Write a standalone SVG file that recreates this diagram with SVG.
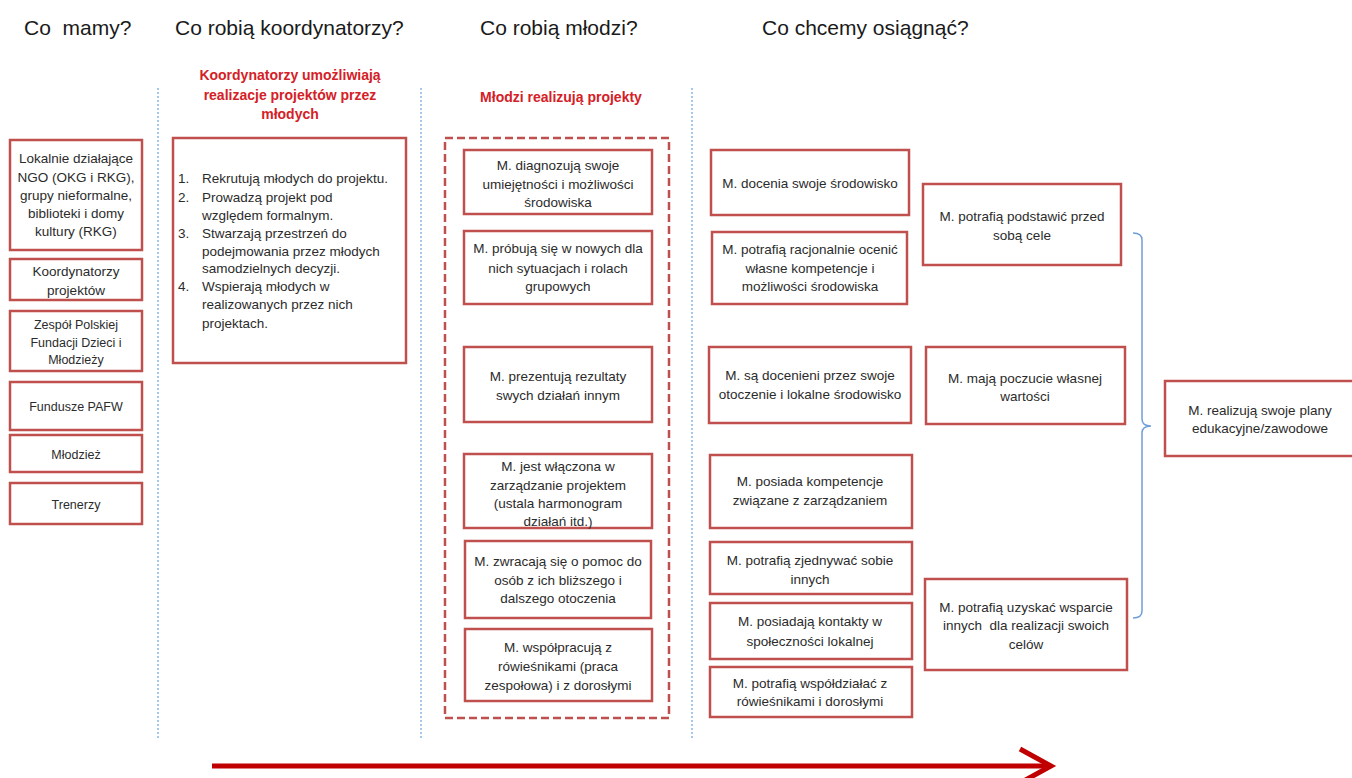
<svg xmlns="http://www.w3.org/2000/svg" width="1352" height="778" viewBox="0 0 1352 778">
<style>
.bg{fill:#ffffff}
.box{fill:#ffffff;stroke:#c0504d;stroke-width:2.5}
.t{font-family:"Liberation Sans",Arial,sans-serif;font-size:13.5px;fill:#2b2b2b;text-anchor:middle}
.tl{font-family:"Liberation Sans",Arial,sans-serif;font-size:13.5px;fill:#2b2b2b}
.sm{font-size:12.5px}
.h{font-family:"Liberation Sans",Arial,sans-serif;font-size:21px;fill:#1a1a1a;white-space:pre}
.red{font-family:"Liberation Sans",Arial,sans-serif;font-size:14px;font-weight:bold;fill:#d42026;text-anchor:middle}
.sep{stroke:#4a8fd8;stroke-width:1;stroke-dasharray:2,2;fill:none}
</style>
<rect class="bg" x="0" y="0" width="1352" height="778"/>

<g id="headers">
<text class="h" x="24" y="35">Co  mamy?</text>
<text class="h" x="175" y="35">Co robią koordynatorzy?</text>
<text class="h" x="480" y="35">Co robią młodzi?</text>
<text class="h" x="762" y="35">Co chcemy osiągnąć?</text>
<text class="red" x="290" y="80">Koordynatorzy umożliwiają</text>
<text class="red" x="290" y="100">realizacje projektów przez</text>
<text class="red" x="290" y="119">młodych</text>
<text class="red" x="561" y="102">Młodzi realizują projekty</text>
</g>

<g id="separators">
<line class="sep" x1="158" y1="88" x2="158" y2="738"/>
<line class="sep" x1="421" y1="88" x2="421" y2="740"/>
<line class="sep" x1="692" y1="88" x2="692" y2="740"/>
</g>

<g id="left-1"><rect class="box" x="10" y="140" width="132" height="110"/>
<text class="t" x="76" y="163">Lokalnie działające</text>
<text class="t" x="76" y="182">NGO (OKG i RKG),</text>
<text class="t" x="76" y="200">grupy nieformalne,</text>
<text class="t" x="76" y="218">biblioteki i domy</text>
<text class="t" x="76" y="236">kultury (RKG)</text></g>
<g id="left-2"><rect class="box" x="10" y="259" width="132" height="41"/>
<text class="t" x="76" y="276">Koordynatorzy</text>
<text class="t" x="76" y="295">projektów</text></g>
<g id="left-3"><rect class="box" x="10" y="311" width="132" height="60"/>
<text class="t sm" x="76" y="329">Zespół Polskiej</text>
<text class="t sm" x="76" y="347">Fundacji Dzieci i</text>
<text class="t sm" x="76" y="364">Młodzieży</text></g>
<g id="left-4"><rect class="box" x="10" y="382" width="132" height="48"/>
<text class="t sm" x="76" y="411">Fundusze PAFW</text></g>
<g id="left-5"><rect class="box" x="10" y="435" width="132" height="37"/>
<text class="t sm" x="76" y="459">Młodzież</text></g>
<g id="left-6"><rect class="box" x="10" y="483" width="132" height="41"/>
<text class="t sm" x="76" y="509">Trenerzy</text></g>

<g id="coordinators"><rect class="box" x="173" y="138" width="233" height="225"/>
<text class="tl" x="178" y="183">1.</text><text class="tl" x="202" y="183">Rekrutują młodych do projektu.</text>
<text class="tl" x="178" y="202">2.</text><text class="tl" x="202" y="202">Prowadzą projekt pod</text>
<text class="tl" x="202" y="220">względem formalnym.</text>
<text class="tl" x="178" y="238">3.</text><text class="tl" x="202" y="238">Stwarzają przestrzeń do</text>
<text class="tl" x="202" y="256">podejmowania przez młodych</text>
<text class="tl" x="202" y="273">samodzielnych decyzji.</text>
<text class="tl" x="178" y="291">4.</text><text class="tl" x="202" y="291">Wspierają młodych w</text>
<text class="tl" x="202" y="309">realizowanych przez nich</text>
<text class="tl" x="202" y="328">projektach.</text></g>

<g id="youth-container"><rect x="445" y="138" width="224" height="580" fill="none" stroke="#c0504d" stroke-width="2.5" stroke-dasharray="8,4"/></g>

<g id="m1"><rect class="box" x="464" y="150" width="188" height="64"/>
<text class="t" x="558" y="170">M. diagnozują swoje</text>
<text class="t" x="558" y="189">umiejętności i możliwości</text>
<text class="t" x="558" y="207">środowiska</text></g>
<g id="m2"><rect class="box" x="464" y="231" width="188" height="73"/>
<text class="t" x="558" y="253">M. próbują się w nowych dla</text>
<text class="t" x="558" y="273">nich sytuacjach i rolach</text>
<text class="t" x="558" y="291">grupowych</text></g>
<g id="m3"><rect class="box" x="464" y="347" width="188" height="75"/>
<text class="t" x="558" y="381">M. prezentują rezultaty</text>
<text class="t" x="558" y="400">swych działań innym</text></g>
<g id="m4"><rect class="box" x="464" y="454" width="188" height="74"/>
<text class="t" x="558" y="471">M. jest włączona w</text>
<text class="t" x="558" y="490">zarządzanie projektem</text>
<text class="t" x="558" y="508">(ustala harmonogram</text>
<text class="t" x="558" y="526">działań itd.)</text></g>
<g id="m5"><rect class="box" x="465" y="541" width="186" height="77"/>
<text class="t" x="558" y="566">M. zwracają się o pomoc do</text>
<text class="t" x="558" y="585">osób z ich bliższego i</text>
<text class="t" x="558" y="603">dalszego otoczenia</text></g>
<g id="m6"><rect class="box" x="465" y="629" width="187" height="72"/>
<text class="t" x="558" y="652">M. współpracują z</text>
<text class="t" x="558" y="671">rówieśnikami (praca</text>
<text class="t" x="558" y="690">zespołowa) i z dorosłymi</text></g>

<g id="r1"><rect class="box" x="711" y="150" width="198" height="65"/>
<text class="t" x="810" y="188">M. docenia swoje środowisko</text></g>
<g id="r2"><rect class="box" x="712" y="232" width="195" height="72"/>
<text class="t" x="810" y="254">M. potrafią racjonalnie ocenić</text>
<text class="t" x="810" y="273">własne kompetencje i</text>
<text class="t" x="810" y="291">możliwości środowiska</text></g>
<g id="r3"><rect class="box" x="709" y="347" width="202" height="76"/>
<text class="t" x="810" y="380">M. są docenieni przez swoje</text>
<text class="t" x="810" y="399">otoczenie i lokalne środowisko</text></g>
<g id="r4"><rect class="box" x="710" y="455" width="202" height="73"/>
<text class="t" x="810" y="486">M. posiada kompetencje</text>
<text class="t" x="810" y="505">związane z zarządzaniem</text></g>
<g id="r5"><rect class="box" x="710" y="542" width="202" height="52"/>
<text class="t" x="810" y="565">M. potrafią zjednywać sobie</text>
<text class="t" x="810" y="584">innych</text></g>
<g id="r6"><rect class="box" x="710" y="603" width="202" height="56"/>
<text class="t" x="810" y="626">M. posiadają kontakty w</text>
<text class="t" x="810" y="646">społeczności lokalnej</text></g>
<g id="r7"><rect class="box" x="710" y="667" width="202" height="50"/>
<text class="t" x="810" y="688">M. potrafią współdziałać z</text>
<text class="t" x="810" y="706">rówieśnikami i dorosłymi</text></g>

<g id="s1"><rect class="box" x="923" y="184" width="198" height="81"/>
<text class="t" x="1022" y="221">M. potrafią podstawić przed</text>
<text class="t" x="1022" y="240">sobą cele</text></g>
<g id="s2"><rect class="box" x="926" y="347" width="199" height="77"/>
<text class="t" x="1025" y="383">M. mają poczucie własnej</text>
<text class="t" x="1025" y="401">wartości</text></g>
<g id="s3"><rect class="box" x="925" y="579" width="202" height="91"/>
<text class="t" x="1026" y="612">M. potrafią uzyskać wsparcie</text>
<text class="t" x="1026" y="630" style="white-space:pre">innych  dla realizacji swoich</text>
<text class="t" x="1026" y="649">celów</text></g>

<g id="final"><rect class="box" x="1165" y="381" width="200" height="75"/>
<text class="t" x="1260" y="415">M. realizują swoje plany</text>
<text class="t" x="1260" y="433">edukacyjne/zawodowe</text></g>

<g id="connectors">
<path d="M1133,233 Q1142,233 1142,240 L1142,419 Q1142,426 1151,426 Q1142,426 1142,433 L1142,611 Q1142,618 1133,618" fill="none" stroke="#6f9fd8" stroke-width="1.5"/>
<line x1="212" y1="766" x2="1049" y2="766" stroke="#c00000" stroke-width="5"/>
<polyline points="1020,749 1051,766 1020,783" fill="none" stroke="#c00000" stroke-width="5"/>
</g>
</svg>
